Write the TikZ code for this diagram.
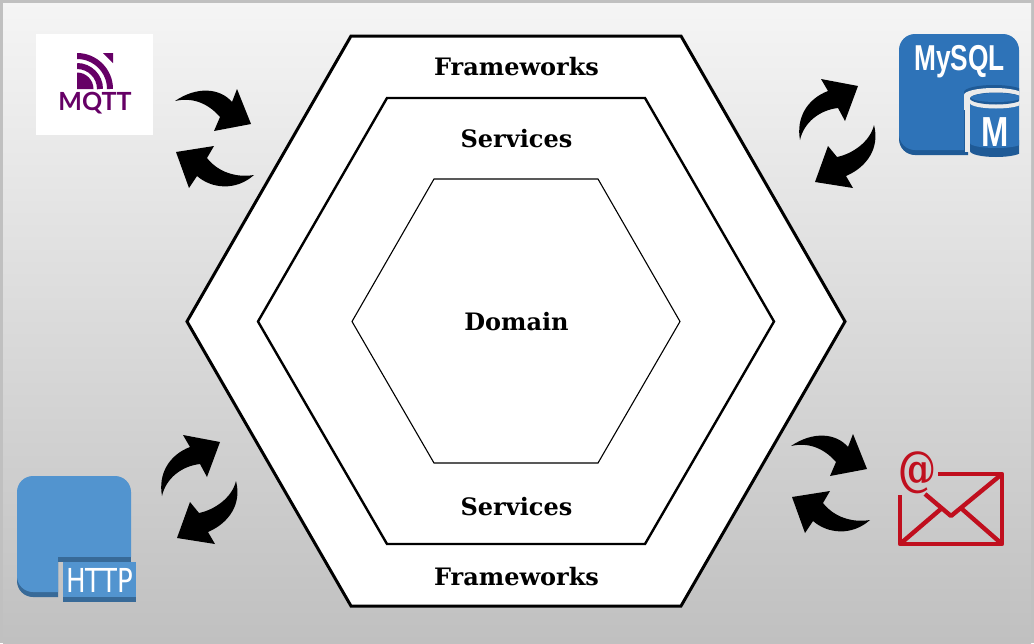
\documentclass[tikz,border=0pt]{standalone}
\usepackage{fontspec}
\setmainfont{DejaVu Serif}
\newfontfamily\iconfont{Liberation Sans}
\newfontfamily\httpfont{DejaVu Sans}
\newfontfamily\mqttfont{Lato}
\definecolor{mqttpurple}{HTML}{660066}
\definecolor{sqlblue}{HTML}{2E73B8}
\definecolor{sqldark}{HTML}{1F5A96}
\definecolor{sqllight}{HTML}{EBEBEB}
\definecolor{httpblue}{HTML}{5294CF}
\definecolor{httpdark}{HTML}{386A98}
\definecolor{mailred}{HTML}{C00F1E}
\definecolor{frameg}{HTML}{C0C0C0}
\tikzset{
  hexlabel/.style={font=\fontsize{24pt}{26pt}\selectfont\bfseries, text=black, inner sep=0pt, anchor=center},
  hexline/.style={draw=black, fill=white, line join=miter},
  swoosh/.style={fill=black, draw=none},
  mailline/.style={draw=mailred, line width=4.4pt, line cap=butt, line join=round},
}
\newcommand{\hpair}[2]{%
  \begin{scope}[shift={(#1,#2)}]
    \fill[swoosh] (175,101) .. controls (197,86) and (220,88) .. (232,102)
      -- (237,89) -- (251,124) -- (214,131) -- (220,117)
      .. controls (208,103) and (192,97) .. (175,101) -- cycle;
    \fill[swoosh] (254,175) .. controls (236,191) and (212,189) .. (197,176)
      -- (189,188) -- (176,152) -- (214,146) -- (207,158)
      .. controls (218,172) and (236,178) .. (254,175) -- cycle;
  \end{scope}}
\newcommand{\vpair}[2]{%
  \begin{scope}[shift={(#1,#2)}]
    \fill[swoosh] (800,140) .. controls (796,118) and (807,99) .. (828,91)
      -- (821,79) -- (858,86) -- (845,121) -- (838,108)
      .. controls (820,110) and (804,122) .. (800,140) -- cycle;
    \fill[swoosh] (874,125) .. controls (880,148) and (867,167) .. (846,176)
      -- (853,188) -- (815,182) -- (828,146) -- (837,157)
      .. controls (852,154) and (870,142) .. (874,125) -- cycle;
  \end{scope}}
\begin{document}
\begin{tikzpicture}[x=1pt,y=-1pt]
\useasboundingbox (0,0) rectangle (1034,643);
\fill[frameg] (0,0) rectangle (1034,643);
\shade[top color=black!4, bottom color=frameg] (3,3) rectangle (1031,643);
% hexagons
\draw[hexline, line width=3pt] (351,36) -- (681,36) -- (845,321.5) -- (681,606) -- (351,606) -- (187,321.5) -- cycle;
\draw[hexline, line width=2.4pt] (387,98) -- (645,98) -- (774,321.5) -- (645,544) -- (387,544) -- (258,321.5) -- cycle;
\draw[hexline, line width=1.1pt] (434,179) -- (598,179) -- (680,321.5) -- (598,463) -- (434,463) -- (352,321.5) -- cycle;
\node[hexlabel] (ftop) at (516.5,67) {Frameworks};
\node[hexlabel] (stop) at (516.5,139) {Services};
\node[hexlabel] (dom) at (516.5,322) {Domain};
\node[hexlabel] (sbot) at (516.5,507) {Services};
\node[hexlabel] (fbot) at (516.5,577) {Frameworks};
% arrows
\hpair{0}{0}
\hpair{616}{345}
\vpair{0}{0}
\vpair{-638}{356}
% MQTT
\fill[white] (36,34) rectangle (153,135);
\begin{scope}
  \clip (77,53) rectangle (113,89);
  \fill[mqttpurple] (77,89) -- (77,72.5) arc[start angle=-90,end angle=0,radius=16.5] -- cycle;
  \draw[mqttpurple, line width=6pt] (77,66) arc[start angle=-90,end angle=0,radius=23];
  \draw[mqttpurple, line width=6pt] (77,56) arc[start angle=-90,end angle=0,radius=33];
  \fill[mqttpurple] (103,53) -- (113,53) -- (113,63) -- cycle;
\end{scope}
\node[text=mqttpurple, font=\mqttfont\fontsize{25pt}{26pt}\selectfont\bfseries, inner sep=0pt] (mqtt) at (95,103.5) {MQTT};
% MySQL
\fill[sqldark] (915,40) -- (1003,40) -- (1003,92) -- (968,92) -- (968,155) -- (915,155) arc[start angle=90,end angle=180,radius=16] -- (899,56) arc[start angle=180,end angle=270,radius=16] -- cycle;
\fill[sqlblue] (915,34) -- (1003,34) arc[start angle=270,end angle=360,radius=16] -- (1019,92) -- (964,92) -- (964,150) -- (915,150) arc[start angle=90,end angle=180,radius=16] -- (899,50) arc[start angle=180,end angle=270,radius=16] -- cycle;
\begin{scope}
  \clip (964,80) rectangle (1019,165);
  \fill[sqldark] (994,92) ellipse[x radius=30, y radius=7];
  \fill[sqllight] (994,95) ellipse[x radius=30, y radius=7];
  \fill[sqllight] (964,95) rectangle (1024,110);
  \fill[sqllight] (964.5,95) rectangle (970,152);
  \fill[sqldark] (970,140) -- (1022,140) -- (1022,151) arc[start angle=0,end angle=180,x radius=26,y radius=6] -- cycle;
  \fill[sqlblue] (970,103) -- (1022,103) -- (1022,143) arc[start angle=0,end angle=180,x radius=26,y radius=5] -- cycle;
  \fill[sqllight] (996,103) ellipse[x radius=26, y radius=5.5];
  \fill[sqldark] (996,98.5) ellipse[x radius=26, y radius=6];
  \fill[sqlblue] (996,97.5) ellipse[x radius=25, y radius=4.5];
\end{scope}
\node[text=white, inner sep=0pt, font=\iconfont\fontsize{42pt}{42pt}\selectfont\bfseries] (mlet) at (995,132) {\scalebox{0.78}[1]{M}};
\node[text=white, inner sep=0pt, font=\iconfont\fontsize{36pt}{36pt}\selectfont\bfseries] (sql) at (959.5,62) {\scalebox{0.73}[1]{MySQL}};
% HTTP
\fill[httpdark] (33,480) -- (115,480) -- (115,557) -- (58,557) -- (58,597) -- (33,597) arc[start angle=90,end angle=180,radius=16] -- (17,496) arc[start angle=180,end angle=270,radius=16] -- cycle;
\fill[httpblue] (33,476) -- (115,476) arc[start angle=270,end angle=360,radius=16] -- (131,557) -- (58,557) -- (58,592) -- (33,592) arc[start angle=90,end angle=180,radius=16] -- (17,492) arc[start angle=180,end angle=270,radius=16] -- cycle;
\fill[httpdark] (58,557) rectangle (131,562);
\fill[httpblue] (63,562) rectangle (136,597);
\fill[httpdark] (63,597) rectangle (136,602);
\node[text=white, inner sep=0pt, font=\httpfont\fontsize{33pt}{33pt}\selectfont] (http) at (99.5,580) {\scalebox{0.79}[1]{HTTP}};
% Mail
\draw[mailline] (900,495) -- (900,544) -- (1002,544) -- (1002,474) -- (938,474);
\draw[mailline] (925,494) -- (951,516) -- (1002,474);
\draw[mailline] (900,544) -- (942,508);
\draw[mailline] (962,509) -- (1002,544);
\node[text=mailred, inner sep=0pt, font=\fontsize{40pt}{40pt}\selectfont\bfseries] (at) at (917,473) {\scalebox{0.95}[1.2]{@}};
\end{tikzpicture}
\end{document}
